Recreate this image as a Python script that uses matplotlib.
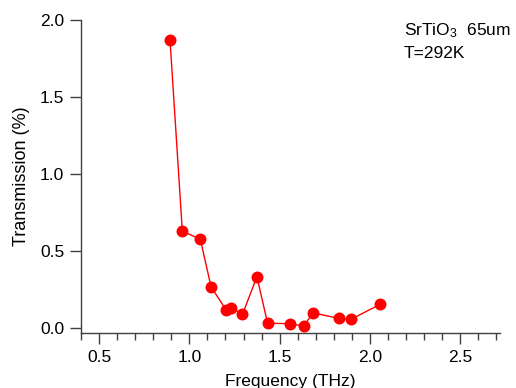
import numpy as np
import matplotlib
matplotlib.use('Agg')
import matplotlib.pyplot as plt
from matplotlib.ticker import MultipleLocator

plt.rcParams['font.family'] = ['Liberation Sans', 'DejaVu Sans']
plt.rcParams['mathtext.default'] = 'regular'

# THz vs transmission (%)
freq = [0.893, 0.961, 1.061, 1.120, 1.204, 1.231, 1.294, 1.374,
        1.433, 1.556, 1.633, 1.685, 1.826, 1.894, 2.056]
trans = [1.868, 0.630, 0.576, 0.268, 0.117, 0.132, 0.089, 0.333,
         0.032, 0.028, 0.013, 0.099, 0.063, 0.056, 0.154]

fig = plt.figure(figsize=(5.16, 3.88), dpi=100)
ax = fig.add_axes([0.157, 0.1418, 0.812, 0.8062])

ax.plot(freq, trans, color='#ff0000', lw=1, marker='o', ms=8.6,
        markeredgewidth=0)

ax.set_xlim(0.4, 2.72)
ax.set_ylim(-0.032, 2.0)
ax.xaxis.set_major_locator(MultipleLocator(0.5))
ax.xaxis.set_minor_locator(MultipleLocator(0.1))
ax.yaxis.set_major_locator(MultipleLocator(0.5))
ax.xaxis.set_major_formatter(matplotlib.ticker.FormatStrFormatter('%.1f'))
ax.yaxis.set_major_formatter(matplotlib.ticker.FormatStrFormatter('%.1f'))

for s in ['top', 'right']:
    ax.spines[s].set_visible(False)
for s in ['left', 'bottom']:
    ax.spines[s].set_color('#404040')
    ax.spines[s].set_linewidth(1)

ax.tick_params(which='major', direction='out', length=8, width=1,
               color='#404040', labelsize=12.5, pad=4)
ax.tick_params(which='minor', direction='out', length=5, width=1,
               color='#404040')

ax.set_xlabel('Frequency (THz)', fontsize=12.5, labelpad=6.5)
ax.set_ylabel('Transmission (%)', fontsize=13, labelpad=7)

fig.text(0.783, 0.945, 'SrTiO$_3$  65um', fontsize=12.5, va='top', ha='left')
fig.text(0.783, 0.882, 'T=292K', fontsize=12.5, va='top', ha='left')

fig.savefig('out.png', dpi=100)
